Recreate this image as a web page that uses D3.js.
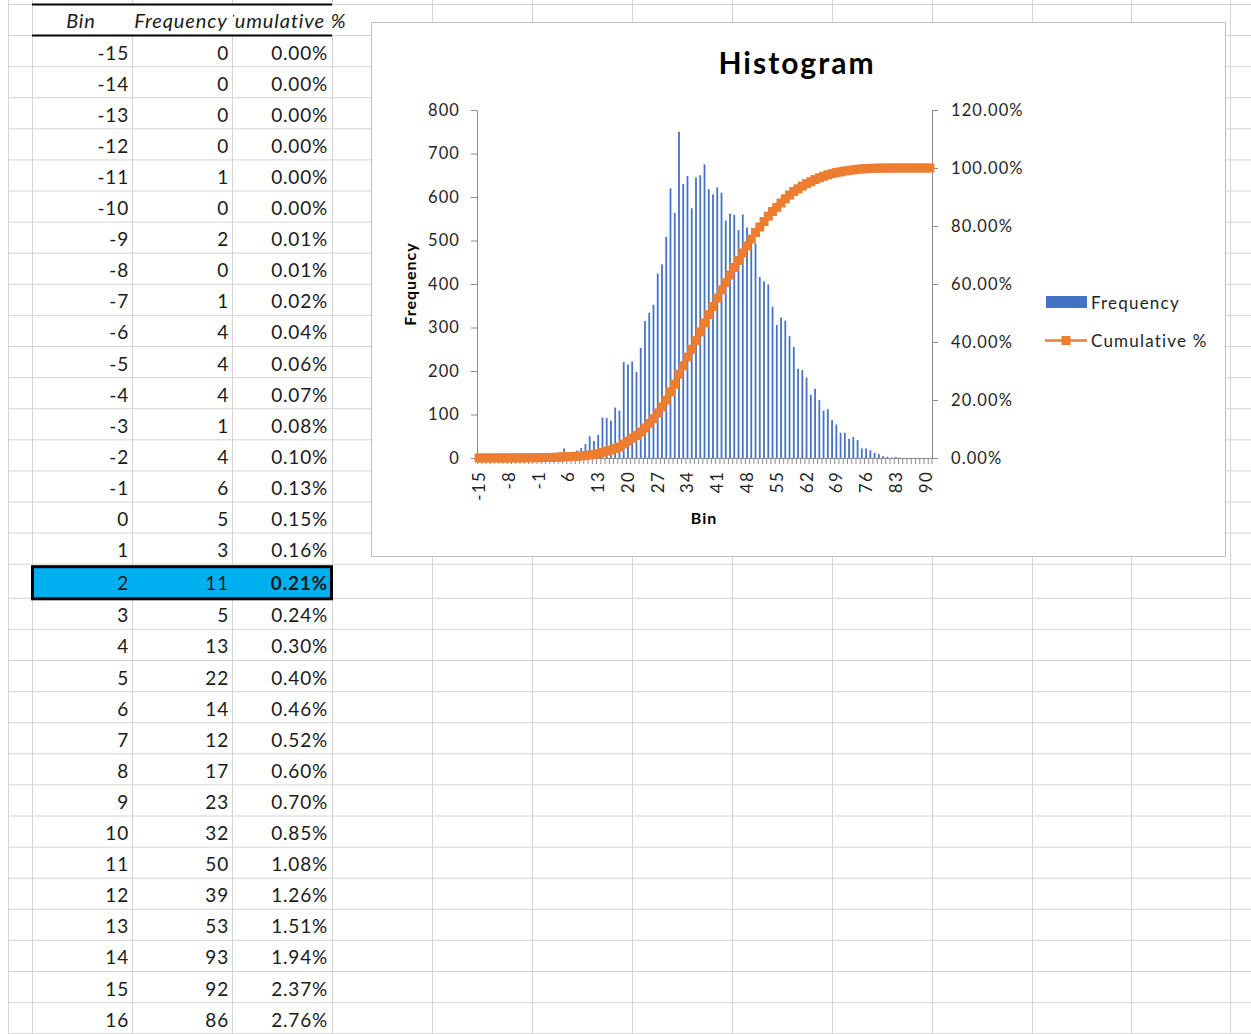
<!DOCTYPE html>
<html>
<head>
<meta charset="utf-8">
<script src="https://cdn.jsdelivr.net/npm/d3@7"></script>
<style>
  body { margin: 0; background: #fff; }
  svg { display: block; font-family: Lato, "Open Sans", sans-serif; }
</style>
</head>
<body>
<svg id="sheet" width="1251" height="1034"></svg>
<script>
// bin labels (category axis)
const bins = ["-15","-14","-13","-12","-11","-10","-9","-8","-7","-6","-5","-4","-3","-2","-1",
  "0","1","2","3","4","5","6","7","8","9","10","11","12","13","14","15","16","17","18","19",
  "20","21","22","23","24","25","26","27","28","29","30","31","32","33","34","35","36","37",
  "38","39","40","41","42","43","44","45","46","47","48","49","50","51","52","53","54","55",
  "56","57","58","59","60","61","62","63","64","65","66","67","68","69","70","71","72","73",
  "74","75","76","77","78","79","80","81","82","83","84","85","86","87","88","89","90","More"];

const frequency = [0,0,0,0,1,0,2,0,1,4,4,4,1,4,6,5,3,11,5,13,22,14,12,17,23,32,50,39,53,93,92,86,
  116,109,220,215,222,198,253,315,334,352,424,445,508,620,563,750,630,648,574,645,
  650,675,618,606,622,610,546,562,559,524,560,530,500,493,416,406,399,348,306,323,
  316,280,255,205,202,185,145,159,133,109,112,87,77,58,58,44,48,41,22,22,18,12,9,
  4,3,1,2,1,0,0,0,0,0,0,0];

// cumulative % (as shown in the sheet)
const cumulativePct = [0.00,0.00,0.00,0.00,0.00,0.00,0.01,0.01,0.02,0.04,
  0.06,0.07,0.08,0.10,0.13,0.15,0.16,0.21,0.24,0.30,
  0.40,0.46,0.52,0.60,0.70,0.85,1.08,1.26,1.51,1.94,2.37,2.76,
  3.30,3.81,4.82,5.82,6.85,7.76,8.94,10.39,11.94,13.57,
  15.53,17.59,19.95,22.82,25.42,28.89,31.81,34.81,37.47,40.46,
  43.47,46.59,49.45,52.26,55.14,57.96,60.49,63.09,65.68,68.11,
  70.70,73.15,75.47,77.75,79.68,81.55,83.40,85.01,86.43,87.93,
  89.39,90.68,91.87,92.81,93.75,94.61,95.28,96.01,96.63,97.13,
  97.65,98.06,98.41,98.68,98.95,99.15,99.37,99.56,99.67,99.77,
  99.85,99.91,99.95,99.97,99.98,99.99,100.00,100.00,100.00,100.00,100.00,100.00,100.00,100.00,100.00];

const freqTicks = [0,100,200,300,400,500,600,700,800];
const pctTicks = [0,0.2,0.4,0.6,0.8,1.0,1.2];
const headers = ["Bin", "Frequency", "Cumulative %"];
const visibleRows = 32;   // rows of the table that fit on screen
const selectedRow = 17;   // the highlighted "2" row

const svg = d3.select('#sheet');
const gridColor = '#d4d4d4';
const textColor = '#1a1a1a';
const pctFmt = d3.format('.2f');

// ---------- worksheet grid ----------
const colX = [8, 32, 132, 232, 332, 432, 532, 632, 732, 832, 932, 1032, 1131, 1230];
const rowTop = i => 35.5 + 31.1 * i + (i > selectedRow ? 3 : 0);

const grid = svg.append('g').attr('stroke', gridColor).attr('stroke-width', 1);
const rowLines = [4.5, 35.5].concat(d3.range(1, visibleRows + 1).map(rowTop));
grid.selectAll('line.h').data(rowLines).join('line')
  .attr('x1', 8).attr('x2', 1251).attr('y1', d => d).attr('y2', d => d);

colX.forEach(x => {
  // header cells overflow, so their inner borders are hidden there
  if (x === 132 || x === 232 || x === 332) {
    grid.append('line').attr('x1', x + .5).attr('x2', x + .5).attr('y1', 0).attr('y2', 4.5);
    grid.append('line').attr('x1', x + .5).attr('x2', x + .5).attr('y1', 35.5).attr('y2', 1034);
  } else {
    grid.append('line').attr('x1', x + .5).attr('x2', x + .5).attr('y1', 0).attr('y2', 1034);
  }
});

// header borders
svg.append('line').attr('x1', 32).attr('x2', 332).attr('y1', 4.5).attr('y2', 4.5)
  .attr('stroke', '#000').attr('stroke-width', 2);
svg.append('line').attr('x1', 32).attr('x2', 332).attr('y1', 35.5).attr('y2', 35.5)
  .attr('stroke', '#000').attr('stroke-width', 2);

// header text (the third header is clipped by the filled cell on its left)
svg.append('clipPath').attr('id', 'hdrClip').append('rect')
  .attr('x', 233).attr('y', 5).attr('width', 200).attr('height', 30);
const hdrCenters = [81, 181, 284];
svg.selectAll('text.hdr').data(headers).join('text')
  .attr('class', 'hdr')
  .attr('x', (d, i) => hdrCenters[i]).attr('y', 28)
  .attr('text-anchor', 'middle')
  .attr('font-size', 20).attr('font-style', 'italic').attr('letter-spacing', 0.9)
  .attr('fill', textColor)
  .attr('clip-path', (d, i) => i === 2 ? 'url(#hdrClip)' : null)
  .text(d => d);

// highlighted row
svg.append('rect')
  .attr('x', 32.5).attr('y', rowTop(selectedRow) + 2.5)
  .attr('width', 299).attr('height', rowTop(selectedRow + 1) - rowTop(selectedRow) - 2)
  .attr('fill', '#00b0f0').attr('stroke', '#000').attr('stroke-width', 3);

// table values
const rows = d3.range(visibleRows).map(i => ({
  i, bin: bins[i], freq: frequency[i], pct: pctFmt(cumulativePct[i]) + '%'
}));
const rowG = svg.append('g').attr('font-size', 19).attr('fill', textColor)
  .attr('letter-spacing', 0.8).attr('text-anchor', 'end');
rowG.selectAll('g').data(rows).join('g')
  .attr('transform', d => `translate(0,${rowTop(d.i) + 24 + (d.i === selectedRow ? 1.5 : 0)})`)
  .each(function (d) {
    const g = d3.select(this);
    g.append('text').attr('x', 129).text(d.bin);
    g.append('text').attr('x', 229).text(d.freq);
    g.append('text').attr('x', 328)
      .attr('font-weight', d.i === selectedRow ? 'bold' : null).text(d.pct);
  });

// ---------- chart ----------
const chart = svg.append('g');
chart.append('rect').attr('x', 371.5).attr('y', 22.5).attr('width', 854).attr('height', 534)
  .attr('fill', '#fff').attr('stroke', '#bfbfbf');

chart.append('text').attr('x', 797).attr('y', 74).attr('text-anchor', 'middle')
  .attr('font-size', 30).attr('font-weight', 'bold').attr('letter-spacing', 2)
  .attr('fill', '#000').text('Histogram');

const x = d3.scaleBand().domain(bins).range([477, 932]).paddingInner(0).paddingOuter(0);
const yL = d3.scaleLinear().domain([0, 800]).range([458, 110]);
const yR = d3.scaleLinear().domain([0, 1.2]).range([458, 110]);

const axisColor = '#8c8c8c';
const axisText = '#1f1f1f';

const leftAxis = chart.append('g').attr('transform', 'translate(477,0)')
  .call(d3.axisLeft(yL).tickValues(freqTicks).tickSize(6).tickPadding(11).tickSizeOuter(0));
const rightAxis = chart.append('g').attr('transform', 'translate(932,0)')
  .call(d3.axisRight(yR).tickValues(pctTicks).tickSize(6).tickPadding(13).tickSizeOuter(0)
    .tickFormat(d => pctFmt(d * 100) + '%'));
[leftAxis, rightAxis].forEach(a => {
  a.attr('font-family', null);
  a.selectAll('path, line').attr('stroke', axisColor);
  a.selectAll('text').attr('font-size', 16.5).attr('letter-spacing', 1.1)
    .attr('fill', axisText);
});

// bars
const barW = x.bandwidth() * 0.42;
chart.append('g').selectAll('rect').data(bins).join('rect')
  .attr('x', d => x(d) + (x.bandwidth() - barW) / 2)
  .attr('y', (d, i) => yL(frequency[i]))
  .attr('width', barW)
  .attr('height', (d, i) => yL(0) - yL(frequency[i]))
  .attr('fill', '#4472c4');

// category axis: line, tick marks between categories, every 7th label
const xAxis = chart.append('g');
xAxis.append('line').attr('x1', 477).attr('x2', 932).attr('y1', 458.5).attr('y2', 458.5)
  .attr('stroke', axisColor);
xAxis.selectAll('line.tk').data(bins.concat(['__end'])).join('line')
  .attr('class', 'tk')
  .attr('x1', d => d === '__end' ? 932 : x(d) + .5)
  .attr('x2', d => d === '__end' ? 932 : x(d) + .5)
  .attr('y1', 458.5).attr('y2', 464)
  .attr('stroke', axisColor);
xAxis.selectAll('text').data(bins.filter((d, i) => i % 7 === 0)).join('text')
  .attr('transform', d => `translate(${x(d) + x.bandwidth() / 2},471) rotate(-90)`)
  .attr('dy', '0.35em').attr('text-anchor', 'end')
  .attr('font-size', 17).attr('letter-spacing', 1.2).attr('fill', axisText)
  .text(d => d);

// cumulative line with square markers
const cx = d => x(d) + x.bandwidth() / 2;
const line = d3.line().x(d => cx(d)).y((d, i) => yR(cumulativePct[i] / 100));
chart.append('path').datum(bins).attr('d', line)
  .attr('fill', 'none').attr('stroke', '#ed7d31').attr('stroke-width', 2.5);
chart.append('g').selectAll('rect').data(bins).join('rect')
  .attr('x', d => cx(d) - 4.5)
  .attr('y', (d, i) => yR(cumulativePct[i] / 100) - 4.5)
  .attr('width', 9).attr('height', 9)
  .attr('fill', '#ed7d31');

// axis titles
chart.append('text').attr('transform', 'translate(416,284) rotate(-90)')
  .attr('text-anchor', 'middle').attr('font-size', 16).attr('font-weight', 'bold')
  .attr('letter-spacing', 1).attr('fill', '#000').text('Frequency');
chart.append('text').attr('x', 704).attr('y', 524).attr('text-anchor', 'middle')
  .attr('font-size', 16).attr('font-weight', 'bold').attr('letter-spacing', 1)
  .attr('fill', '#000').text('Bin');

// legend
const legend = chart.append('g').attr('font-size', 17).attr('letter-spacing', 1.2).attr('fill', axisText);
legend.append('rect').attr('x', 1046).attr('y', 296).attr('width', 41).attr('height', 12)
  .attr('fill', '#4472c4');
legend.append('text').attr('x', 1091).attr('y', 309).text('Frequency');
legend.append('line').attr('x1', 1045).attr('x2', 1087).attr('y1', 340.5).attr('y2', 340.5)
  .attr('stroke', '#ed7d31').attr('stroke-width', 2.5);
legend.append('rect').attr('x', 1061.5).attr('y', 336).attr('width', 9).attr('height', 9)
  .attr('fill', '#ed7d31');
legend.append('text').attr('x', 1091).attr('y', 347).text('Cumulative %');
</script>
</body>
</html>
